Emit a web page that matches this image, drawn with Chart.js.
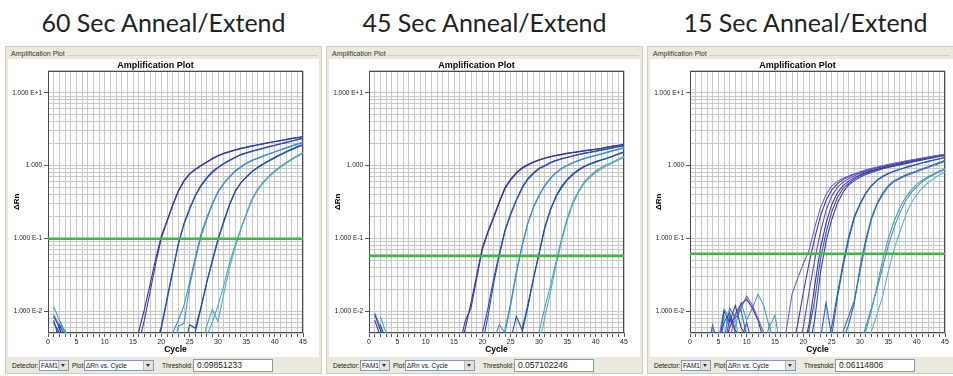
<!DOCTYPE html>
<html>
<head>
<meta charset="utf-8">
<script src="https://cdn.jsdelivr.net/npm/chart.js@4.4.1/dist/chart.umd.min.js"></script>
<style>
    body { margin: 0; width: 953px; height: 376px; overflow: hidden; background: #fff; position: relative; font-family: 'Liberation Sans', Arial, sans-serif; }
    .heading { position: absolute; top: 6px; width: 317px; text-align: center; font-family: Lato, 'Open Sans', sans-serif; font-size: 25px; line-height: 32px; color: #231f20; }
    .panel { position: absolute; top: 46px; width: 317px; height: 328px; background: #eceadf; border: 1px solid #cfccbf; box-sizing: border-box; overflow: hidden; }
    .group-line { position: absolute; left: 4px; right: 3px; top: 8px; border-top: 1px solid #d4d1c4; }
    .group-label { position: absolute; left: 5px; top: 3px; font-size: 7px; color: #333; background: #eceadf; padding-right: 2px; }
    .plot-box { position: absolute; left: 2px; top: 12px; width: 311px; height: 298px; background: #fff; }
    .plot-box canvas { position: absolute; left: 0; top: 0; }
    .controls { position: absolute; left: 0; top: 311px; height: 16px; width: 100%; font-size: 6.5px; color: #111; }
    .controls span { position: absolute; top: 4px; white-space: nowrap; }
    .select { position: absolute; top: 2px; height: 11px; background: #fff; border: 1px solid #7f9db9; box-sizing: border-box; font-size: 6.5px; line-height: 9px; padding-left: 1px; white-space: nowrap; overflow: hidden; }
    .select .btn { position: absolute; right: 0; top: 0; width: 9px; height: 9px; background: #e4e2d8; border-left: 1px solid #b8b6ac; }
    .select .btn::after { content: ''; position: absolute; left: 2px; top: 3px; border-left: 2.5px solid transparent; border-right: 2.5px solid transparent; border-top: 3px solid #333; }
    .input { position: absolute; top: 1px; height: 13px; background: #fff; border: 1px solid #7f9db9; box-sizing: border-box; font-size: 8.5px; line-height: 11px; padding-left: 3px; color: #222; }
</style>
</head>
<body>

<div class="heading" style="left:5px">60 Sec Anneal/Extend</div>
<div class="heading" style="left:326px">45 Sec Anneal/Extend</div>
<div class="heading" style="left:647px">15 Sec Anneal/Extend</div>

<div class="panel" style="left:5px">
    <div class="group-line"></div>
    <div class="group-label">Amplification Plot</div>
    <div class="plot-box"><canvas id="plot_60" width="310" height="297"></canvas></div>
    <div class="controls">
        <span style="left:6px">Detector:</span>
        <div class="select" style="left:33px;width:30px">FAM1<div class="btn"></div></div>
        <span style="left:66px">Plot:</span>
        <div class="select" style="left:78px;width:70px">ΔRn vs. Cycle<div class="btn"></div></div>
        <span style="left:156px">Threshold:</span>
        <div class="input" id="thr_60" style="left:187px;width:80px"></div>
    </div>
</div>

<div class="panel" style="left:326px">
    <div class="group-line"></div>
    <div class="group-label">Amplification Plot</div>
    <div class="plot-box"><canvas id="plot_45" width="310" height="297"></canvas></div>
    <div class="controls">
        <span style="left:6px">Detector:</span>
        <div class="select" style="left:33px;width:30px">FAM1<div class="btn"></div></div>
        <span style="left:66px">Plot:</span>
        <div class="select" style="left:78px;width:70px">ΔRn vs. Cycle<div class="btn"></div></div>
        <span style="left:156px">Threshold:</span>
        <div class="input" id="thr_45" style="left:187px;width:80px"></div>
    </div>
</div>

<div class="panel" style="left:647px;width:306px;border-right:none">
    <div class="group-line"></div>
    <div class="group-label">Amplification Plot</div>
    <div class="plot-box"><canvas id="plot_15" width="310" height="297"></canvas></div>
    <div class="controls">
        <span style="left:6px">Detector:</span>
        <div class="select" style="left:33px;width:30px">FAM1<div class="btn"></div></div>
        <span style="left:66px">Plot:</span>
        <div class="select" style="left:78px;width:70px">ΔRn vs. Cycle<div class="btn"></div></div>
        <span style="left:156px">Threshold:</span>
        <div class="input" id="thr_15" style="left:187px;width:80px"></div>
    </div>
</div>

<script>
const _ = null;

// cycles 1..45
const cycles = Array.from({length: 45}, (v, i) => i + 1);
const xGridValues = Array.from({length: 46}, (v, i) => i);

const yGridValues = [0.005, 0.006, 0.007, 0.008, 0.009,
    0.01, 0.02, 0.03, 0.04, 0.05, 0.06, 0.07, 0.08, 0.09,
    0.1, 0.2, 0.3, 0.4, 0.5, 0.6, 0.7, 0.8, 0.9,
    1, 2, 3, 4, 5, 6, 7, 8, 9, 10, 20];
const yLabelValues = [0.01, 0.1, 1, 10];
const yLabelTexts = ['1.000 E-2', '1.000 E-1', '1.000', '1.000 E+1'];

const thresholds = [0.09851233, 0.057102246, 0.06114806];
const thresholdTexts = ['0.09851233', '0.057102246', '0.06114806'];

// ---- 60 sec ----
const p60A1 = [0.0085, 0.006, 0.003, _, _, _, _, _, _, _, _, _, _, _, 0.003,
    0.0052, 0.0105, 0.023, 0.052, 0.108, 0.175, 0.29, 0.45, 0.62, 0.77, 0.89, 1.0, 1.12, 1.25, 1.37,
    1.47, 1.56, 1.64, 1.72, 1.79, 1.86, 1.93, 2.0, 2.07, 2.14, 2.21, 2.28, 2.36, 2.43, 2.5];
const p60A2 = [0.007, 0.005, 0.0035, _, _, _, _, _, _, _, _, _, _, _, _,
    0.0035, 0.0075, 0.018, 0.045, 0.1, 0.17, 0.28, 0.44, 0.61, 0.76, 0.88, 0.99, 1.11, 1.23, 1.35,
    1.45, 1.54, 1.62, 1.7, 1.77, 1.84, 1.91, 1.98, 2.05, 2.12, 2.19, 2.27, 2.34, 2.41, 2.48];
const p60B1 = [0.004, 0.0065, 0.0045, _, _, _, _, _, _, _, _, _, _, _, _,
    _, _, _, 0.003, 0.0058, 0.014, 0.034, 0.085, 0.16, 0.26, 0.39, 0.54, 0.68, 0.83, 0.95,
    1.07, 1.18, 1.3, 1.42, 1.5, 1.58, 1.66, 1.74, 1.82, 1.9, 1.99, 2.08, 2.17, 2.27, 2.38];
const p60B2 = [0.0075, 0.004, _, _, _, _, _, _, _, _, _, _, _, _, _,
    _, _, _, 0.0032, 0.0062, 0.015, 0.036, 0.082, 0.155, 0.25, 0.38, 0.52, 0.66, 0.8, 0.93,
    1.05, 1.16, 1.28, 1.4, 1.48, 1.56, 1.64, 1.72, 1.8, 1.88, 1.97, 2.06, 2.16, 2.26, 2.36];
const p60C1 = [_, 0.0075, 0.005, 0.003, _, _, _, _, _, _, _, _, _, _, _,
    _, _, _, _, _, 0.003, 0.005, 0.0075, 0.012, 0.025, 0.055, 0.115, 0.19, 0.3, 0.44,
    0.57, 0.7, 0.84, 0.96, 1.08, 1.18, 1.27, 1.36, 1.45, 1.55, 1.65, 1.75, 1.86, 1.98, 2.1];
const p60C2 = [_, _, _, _, _, _, _, _, _, _, _, _, _, _, _,
    _, _, _, _, _, _, 0.003, 0.0062, 0.0068, 0.022, 0.05, 0.105, 0.18, 0.29, 0.43,
    0.56, 0.69, 0.82, 0.94, 1.06, 1.16, 1.25, 1.34, 1.43, 1.53, 1.63, 1.73, 1.84, 1.95, 2.06];
const p60D1 = [_, _, _, _, _, _, _, _, _, _, _, _, _, _, _,
    _, _, _, _, _, _, _, _, _, 0.003, 0.0052, 0.011, 0.024, 0.05, 0.098,
    0.17, 0.29, 0.44, 0.58, 0.7, 0.83, 0.95, 1.06, 1.17, 1.3, 1.42, 1.55, 1.68, 1.82, 1.95];
const p60D2 = [_, 0.006, 0.0035, _, _, _, _, _, _, _, _, _, _, _, _,
    _, _, _, _, _, _, _, _, 0.003, 0.0065, 0.0058, 0.0115, 0.025, 0.048, 0.094,
    0.165, 0.28, 0.43, 0.57, 0.69, 0.82, 0.93, 1.04, 1.15, 1.27, 1.39, 1.52, 1.65, 1.78, 1.9];
const p60E1 = [0.0115, 0.0075, 0.005, 0.003, _, _, _, _, _, _, _, _, _, _, _,
    _, _, _, _, _, _, _, _, _, _, _, 0.003, 0.0045, 0.007, 0.012,
    0.022, 0.045, 0.08, 0.135, 0.22, 0.35, 0.48, 0.6, 0.72, 0.85, 0.97, 1.1, 1.23, 1.37, 1.5];
const p60E2 = [0.009, 0.0065, 0.0055, 0.0035, _, _, _, _, _, _, _, _, _, _, _,
    _, _, _, _, _, _, _, _, _, _, _, 0.003, 0.0062, 0.0105, 0.0072,
    0.017, 0.038, 0.075, 0.13, 0.21, 0.33, 0.46, 0.58, 0.7, 0.82, 0.94, 1.07, 1.2, 1.33, 1.46];

// ---- 45 sec ----
const p45A1 = [0.009, 0.0055, 0.003, _, _, _, _, _, _, _, _, _, _, _, _,
    0.003, 0.0058, 0.013, 0.031, 0.075, 0.125, 0.2, 0.32, 0.5, 0.65, 0.8, 0.93, 1.03, 1.12, 1.2,
    1.27, 1.33, 1.38, 1.43, 1.48, 1.52, 1.56, 1.6, 1.64, 1.68, 1.73, 1.79, 1.85, 1.9, 1.96];
const p45A2 = [0.0075, 0.0045, _, _, _, _, _, _, _, _, _, _, _, _, _,
    0.0035, 0.0074, 0.011, 0.028, 0.07, 0.12, 0.19, 0.31, 0.48, 0.63, 0.78, 0.91, 1.01, 1.1, 1.18,
    1.25, 1.31, 1.36, 1.41, 1.46, 1.5, 1.54, 1.58, 1.62, 1.66, 1.71, 1.77, 1.83, 1.88, 1.93];
const p45B1 = [_, 0.0065, 0.004, _, _, _, _, _, _, _, _, _, _, _, _,
    _, _, _, 0.003, 0.005, 0.011, 0.028, 0.062, 0.13, 0.22, 0.34, 0.5, 0.66, 0.79, 0.92,
    1.0, 1.1, 1.18, 1.25, 1.3, 1.36, 1.42, 1.48, 1.53, 1.58, 1.64, 1.7, 1.76, 1.82, 1.88];
const p45B2 = [_, _, _, _, _, _, _, _, _, _, _, _, _, _, _,
    _, _, _, _, 0.0035, 0.0085, 0.024, 0.058, 0.125, 0.21, 0.33, 0.48, 0.64, 0.77, 0.9,
    0.98, 1.08, 1.16, 1.23, 1.29, 1.35, 1.41, 1.46, 1.51, 1.56, 1.62, 1.68, 1.74, 1.8, 1.85];
const p45C1 = [_, _, _, _, _, _, _, _, _, _, _, _, _, _, _,
    _, _, _, _, _, _, _, 0.003, 0.0055, 0.013, 0.035, 0.08, 0.16, 0.27, 0.39,
    0.53, 0.67, 0.8, 0.92, 1.02, 1.1, 1.18, 1.26, 1.32, 1.38, 1.45, 1.53, 1.6, 1.68, 1.76];
const p45C2 = [_, _, _, _, _, _, _, _, _, _, _, _, _, _, _,
    _, _, _, _, _, _, 0.004, 0.0065, 0.005, 0.012, 0.032, 0.076, 0.155, 0.26, 0.38,
    0.52, 0.66, 0.79, 0.9, 1.0, 1.08, 1.16, 1.24, 1.3, 1.36, 1.43, 1.5, 1.58, 1.66, 1.73];
const p45D1 = [_, _, _, _, _, _, _, _, _, _, _, _, _, _, _,
    _, _, _, _, _, _, _, _, _, _, 0.003, 0.005, 0.011, 0.027, 0.062,
    0.14, 0.25, 0.38, 0.52, 0.65, 0.77, 0.88, 0.98, 1.06, 1.13, 1.2, 1.27, 1.35, 1.45, 1.55];
const p45D2 = [_, _, _, _, _, _, _, _, _, _, _, _, _, _, _,
    _, _, _, _, _, _, _, _, _, 0.004, 0.0085, 0.0055, 0.012, 0.028, 0.06,
    0.135, 0.24, 0.37, 0.5, 0.63, 0.75, 0.86, 0.96, 1.04, 1.11, 1.18, 1.25, 1.33, 1.43, 1.52];
const p45E1 = [0.0095, 0.006, 0.0035, _, _, _, _, _, _, _, _, _, _, _, _,
    _, _, _, _, _, _, _, _, _, _, _, _, _, 0.003, 0.0052,
    0.011, 0.022, 0.048, 0.1, 0.19, 0.32, 0.45, 0.6, 0.72, 0.84, 0.94, 1.03, 1.12, 1.23, 1.34];
const p45E2 = [_, 0.0085, 0.005, 0.003, _, _, _, _, _, _, _, _, _, _, _,
    _, _, _, _, _, _, _, _, _, _, _, _, _, _, 0.0035,
    0.008, 0.018, 0.042, 0.092, 0.18, 0.3, 0.43, 0.57, 0.69, 0.8, 0.9, 0.99, 1.08, 1.18, 1.29];

// ---- 15 sec ----
const p15A1 = [_, _, 0.003, 0.0065, 0.003, _, 0.004, 0.009, 0.011, 0.016, 0.012, 0.008, 0.005, 0.003, _,
    0.003, 0.0055, 0.017, 0.028, 0.045, 0.068, 0.14, 0.26, 0.4, 0.52, 0.6, 0.67, 0.72, 0.77, 0.82,
    0.87, 0.91, 0.95, 0.99, 1.03, 1.07, 1.11, 1.15, 1.19, 1.23, 1.27, 1.31, 1.35, 1.39, 1.43];
const p15A2 = [_, _, _, _, 0.003, 0.01, 0.007, 0.012, 0.006, 0.0045, 0.003, _, _, _, _,
    _, _, 0.003, 0.0065, 0.018, 0.045, 0.1, 0.2, 0.33, 0.46, 0.56, 0.64, 0.7, 0.76, 0.81,
    0.86, 0.9, 0.94, 0.98, 1.02, 1.06, 1.1, 1.14, 1.18, 1.22, 1.26, 1.3, 1.34, 1.38, 1.42];
const p15A3 = [_, _, _, _, _, _, _, _, _, _, _, _, _, _, _,
    _, _, _, 0.003, 0.006, 0.018, 0.05, 0.12, 0.24, 0.38, 0.5, 0.59, 0.66, 0.72, 0.78,
    0.83, 0.88, 0.92, 0.96, 1.0, 1.04, 1.08, 1.12, 1.16, 1.2, 1.24, 1.28, 1.32, 1.36, 1.4];
const p15A4 = [_, _, _, _, _, 0.003, 0.006, 0.009, 0.0125, 0.0145, 0.011, 0.0075, 0.004, _, _,
    _, _, _, _, 0.003, 0.0065, 0.022, 0.072, 0.16, 0.29, 0.42, 0.53, 0.61, 0.68, 0.74,
    0.8, 0.85, 0.89, 0.93, 0.97, 1.01, 1.05, 1.09, 1.13, 1.18, 1.22, 1.27, 1.31, 1.35, 1.39];
const p15A5 = [_, _, _, _, _, 0.003, 0.008, 0.0055, 0.004, 0.007, 0.0035, _, _, _, _,
    _, _, _, _, 0.003, 0.0055, 0.014, 0.05, 0.12, 0.23, 0.36, 0.48, 0.57, 0.65, 0.72,
    0.78, 0.83, 0.88, 0.92, 0.96, 1.0, 1.04, 1.08, 1.12, 1.16, 1.21, 1.25, 1.3, 1.34, 1.38];
const p15A6 = [_, _, _, _, _, _, _, _, _, _, _, _, _, _, _,
    _, _, _, _, _, 0.003, 0.0075, 0.033, 0.09, 0.18, 0.3, 0.43, 0.54, 0.62, 0.69,
    0.75, 0.8, 0.85, 0.9, 0.94, 0.98, 1.02, 1.06, 1.1, 1.15, 1.19, 1.24, 1.28, 1.33, 1.37];
const p15B1 = [_, _, _, _, 0.003, 0.007, 0.0095, 0.005, 0.003, _, _, _, _, _, _,
    _, _, _, _, _, _, _, _, 0.0035, 0.006, 0.017, 0.045, 0.105, 0.2, 0.3,
    0.42, 0.53, 0.63, 0.71, 0.78, 0.84, 0.89, 0.94, 0.99, 1.04, 1.09, 1.14, 1.19, 1.24, 1.29];
const p15B2 = [_, _, _, _, _, _, _, _, _, _, _, _, _, _, _,
    _, _, _, _, _, _, _, 0.004, 0.013, 0.0045, 0.015, 0.04, 0.095, 0.19, 0.29,
    0.41, 0.52, 0.62, 0.7, 0.77, 0.83, 0.88, 0.93, 0.98, 1.03, 1.08, 1.13, 1.18, 1.23, 1.28];
const p15C1 = [_, _, _, _, _, 0.004, 0.011, 0.008, 0.0105, 0.0045, 0.003, _, _, _, _,
    _, _, _, _, _, _, _, _, _, _, 0.003, 0.0052, 0.0085, 0.014, 0.035,
    0.085, 0.18, 0.29, 0.4, 0.51, 0.6, 0.66, 0.72, 0.77, 0.82, 0.88, 0.94, 1.0, 1.07, 1.14];
const p15C2 = [_, _, _, _, _, _, _, _, _, _, _, _, _, _, _,
    _, _, _, _, _, _, _, _, _, _, _, 0.004, 0.0065, 0.013, 0.04,
    0.095, 0.19, 0.3, 0.42, 0.53, 0.62, 0.68, 0.74, 0.79, 0.84, 0.9, 0.96, 1.03, 1.1, 1.18];
const p15D1 = [_, _, _, _, 0.004, 0.0105, 0.0085, 0.006, 0.013, 0.0075, 0.011, 0.017, 0.012, 0.006, 0.0088,
    0.003, _, _, _, _, _, _, _, _, _, _, _, _, _, 0.003,
    0.0052, 0.01, 0.022, 0.05, 0.1, 0.17, 0.26, 0.36, 0.46, 0.55, 0.63, 0.7, 0.77, 0.84, 0.9];
const p15D2 = [_, _, _, _, 0.003, 0.0085, 0.006, 0.0075, 0.003, _, _, _, _, _, _,
    _, _, _, _, _, _, _, _, _, _, _, _, _, _, _,
    0.003, 0.0052, 0.009, 0.016, 0.035, 0.07, 0.12, 0.2, 0.3, 0.4, 0.49, 0.58, 0.66, 0.74, 0.81];
const p15D3 = [_, _, 0.003, 0.006, 0.0035, _, _, _, _, _, _, _, 0.003, 0.0065, 0.003,
    _, _, _, _, _, _, _, _, _, _, _, _, _, _, 0.0035,
    0.006, 0.011, 0.02, 0.04, 0.08, 0.14, 0.22, 0.32, 0.42, 0.51, 0.6, 0.68, 0.75, 0.82, 0.88];

const p60Series = [p60A1, p60A2, p60B1, p60B2, p60C1, p60C2, p60D1, p60D2, p60E1, p60E2];
const p45Series = [p45A1, p45A2, p45B1, p45B2, p45C1, p45C2, p45D1, p45D2, p45E1, p45E2];
const p15Series = [p15A1, p15A2, p15A3, p15A4, p15A5, p15A6, p15B1, p15B2, p15C1, p15C2, p15D1, p15D2, p15D3];

const fiveGroupColours = ['#35359e', '#3b3aa8', '#2a48b4', '#2f4fba', '#3d8ec8', '#4594c9',
    '#1f4ca6', '#2454aa', '#4aa7b9', '#56adbd'];
const p15Colours = ['#6c64bd', '#3e3aa6', '#5750b3', '#34389f', '#4a4bb0', '#2e45ad',
    '#2658b6', '#2d62bb', '#2f72c0', '#2a66b8', '#45a2b6', '#5db5c3', '#3b95b0'];

(function(){

    const smallFont = "'Liberation Sans', Arial, sans-serif";

    const plotFrame = {
        id: 'plotFrame',
        beforeDatasetsDraw(chart) {
            const {ctx, chartArea: a} = chart;
            ctx.save();
            ctx.strokeStyle = '#4a4a4a';
            ctx.lineWidth = 1;
            ctx.strokeRect(Math.round(a.left) + 0.5, Math.round(a.top) + 0.5,
                Math.round(a.right - a.left) - 1, Math.round(a.bottom - a.top) - 1);
            ctx.restore();
        }
    };

    function renderAmplificationPlot(canvasId, series, colours, threshold) {
        const ctx = document.getElementById(canvasId).getContext('2d');
        const datasets = [{
            label: 'Threshold',
            data: [{x: 0, y: threshold}, {x: 45, y: threshold}],
            borderColor: '#3cb843',
            borderWidth: 2.5,
            pointRadius: 0
        }];
        series.forEach((values, i) => {
            datasets.push({
                label: 'Well ' + (i + 1),
                data: values.map((v, j) => ({x: cycles[j], y: v})),
                borderColor: colours[i],
                borderWidth: 1.1,
                pointRadius: 0,
                tension: 0,
                spanGaps: false
            });
        });

        new Chart(ctx, {
            type: 'line',
            data: {datasets: datasets},
            plugins: [plotFrame],
            options: {
                responsive: false,
                animation: false,
                devicePixelRatio: 1,
                layout: {
                    padding: {left: 0, right: 15, top: 0, bottom: 0}
                },
                plugins: {
                    legend: {display: false},
                    tooltip: {enabled: false},
                    title: {
                        display: true,
                        text: 'Amplification Plot',
                        color: '#000',
                        font: {family: smallFont, size: 9, weight: 'bold'},
                        padding: {top: 1, bottom: 0}
                    }
                },
                scales: {
                    x: {
                        type: 'linear',
                        min: 0,
                        max: 45,
                        afterFit: (scale) => { scale.height = 23; },
                        afterBuildTicks: (scale) => { scale.ticks = xGridValues.map((v) => ({value: v})); },
                        border: {display: false},
                        grid: {
                            color: '#c8c8c8',
                            tickLength: 4,
                            tickColor: '#555'
                        },
                        ticks: {
                            autoSkip: false,
                            maxRotation: 0,
                            padding: 1,
                            color: '#222',
                            font: {family: smallFont, size: 7},
                            callback: (value) => value % 5 === 0 ? String(value) : ''
                        },
                        title: {
                            display: true,
                            text: 'Cycle',
                            color: '#000',
                            font: {family: smallFont, size: 8.5, weight: 'bold'},
                            padding: {top: 0, bottom: 1}
                        }
                    },
                    y: {
                        type: 'logarithmic',
                        min: 0.005,
                        max: 20,
                        afterFit: (scale) => { scale.width = 40; },
                        afterBuildTicks: (scale) => { scale.ticks = yGridValues.map((v) => ({value: v})); },
                        border: {display: false},
                        grid: {
                            color: '#c8c8c8',
                            tickLength: 4,
                            tickColor: (c) => yLabelValues.includes(c.tick && c.tick.value) ? '#555' : 'rgba(0,0,0,0)'
                        },
                        ticks: {
                            autoSkip: false,
                            padding: 2,
                            color: '#222',
                            font: {family: smallFont, size: 6.5},
                            callback: (value) => {
                                const i = yLabelValues.indexOf(value);
                                return i >= 0 ? yLabelTexts[i] : '';
                            }
                        },
                        title: {
                            display: true,
                            text: 'ΔRn',
                            color: '#000',
                            font: {family: smallFont, size: 8, weight: 'bold'},
                            padding: {top: 4, bottom: 0}
                        }
                    }
                }
            }
        });
    }

    renderAmplificationPlot('plot_60', p60Series, fiveGroupColours, thresholds[0]);
    renderAmplificationPlot('plot_45', p45Series, fiveGroupColours, thresholds[1]);
    renderAmplificationPlot('plot_15', p15Series, p15Colours, thresholds[2]);

    document.getElementById('thr_60').textContent = thresholdTexts[0];
    document.getElementById('thr_45').textContent = thresholdTexts[1];
    document.getElementById('thr_15').textContent = thresholdTexts[2];
})();
</script>
</body>
</html>
